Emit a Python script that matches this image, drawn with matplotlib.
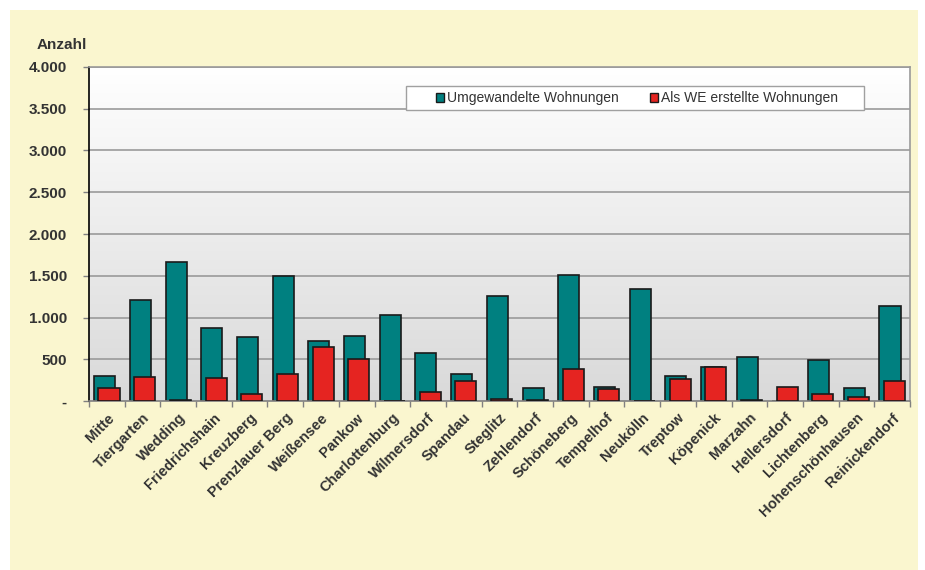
import matplotlib
matplotlib.use("Agg")
import matplotlib.pyplot as plt
import numpy as np
from matplotlib.patches import Rectangle
from matplotlib.ticker import FixedLocator

bezirke = ["Mitte", "Tiergarten", "Wedding", "Friedrichshain", "Kreuzberg",
           "Prenzlauer Berg", "Weißensee", "Pankow", "Charlottenburg",
           "Wilmersdorf", "Spandau", "Steglitz", "Zehlendorf", "Schöneberg",
           "Tempelhof", "Neukölln", "Treptow", "Köpenick", "Marzahn",
           "Hellersdorf", "Lichtenberg", "Hohenschönhausen", "Reinickendorf"]
umgewandelt = [303, 1210, 1665, 874, 770, 1497, 722, 778, 1026, 571, 327, 1261,
               156, 1513, 164, 1345, 299, 407, 531, 5, 491, 160, 1138]
als_we = [159, 287, 12, 275, 88, 323, 643, 503, 0, 112, 243, 28,
          10, 383, 140, 0, 263, 405, 12, 164, 80, 48, 240]
yticks = [0, 500, 1000, 1500, 2000, 2500, 3000, 3500, 4000]
ytick_labels = ["-", "500", "1.000", "1.500", "2.000", "2.500", "3.000", "3.500", "4.000"]

plt.rcParams['font.family'] = ['Liberation Sans', 'DejaVu Sans']
W, H = 925, 570
fig = plt.figure(figsize=(W / 100, H / 100), dpi=100)
fig.patch.set_facecolor("white")
fig.patches.append(Rectangle((10 / W, 0), 908 / W, 560 / H, transform=fig.transFigure,
                             facecolor="#faf6cf", edgecolor="none", zorder=-10))

ax = fig.add_axes([89 / W, (H - 401) / H, 821 / W, 334 / H])
ax.set_zorder(1)
n = len(bezirke)
x = np.arange(n)
ax.set_xlim(-0.5, n - 0.5)
ax.set_ylim(0, 4000)

# gradient background
grad = np.linspace(0, 1, 256).reshape(-1, 1)
cmap = matplotlib.colors.LinearSegmentedColormap.from_list("g", ["#d9d9d9", "#ffffff"])
ax.imshow(grad, extent=(-0.5, n - 0.5, 0, 4000), origin="lower", aspect="auto",
          cmap=cmap, zorder=0)

for y in yticks[1:]:
    ax.axhline(y, color="#9a9a9a", lw=1.2, zorder=1)

bw = 0.59
ax.bar(x - 0.06, umgewandelt, width=bw, color="#008080", edgecolor="#1a1a1a",
       linewidth=1.2, zorder=2, label="Umgewandelte Wohnungen")
ax.bar(x + 0.06, als_we, width=bw, color="#e52421", edgecolor="#1a1a1a",
       linewidth=1.2, zorder=3, label="Als WE erstellte Wohnungen")

ax.set_yticks(yticks)
ax.set_yticklabels(ytick_labels, fontsize=11, fontweight="bold", color="#333333")
ax.tick_params(axis="y", length=4, color="#808080", width=1, pad=12)

ax.set_xticks(x)
ax.set_xticklabels(bezirke, rotation=45, ha="right", rotation_mode="anchor",
                   fontsize=10.5, fontweight="bold", color="#333333")
ax.tick_params(axis="x", which="major", length=0, pad=7)
ax.xaxis.set_minor_locator(FixedLocator(np.arange(-0.5, n, 1.0)))
ax.tick_params(axis="x", which="minor", length=4, color="#808080", width=1)

ax.spines["left"].set_color("black")
ax.spines["left"].set_linewidth(1.2)
ax.spines["bottom"].set_color("#808080")
ax.spines["bottom"].set_linewidth(1.2)
ax.spines["right"].set_color("#9a9a9a")
ax.spines["right"].set_linewidth(1.2)
ax.spines["top"].set_color("#9a9a9a")
ax.spines["top"].set_linewidth(1.2)

# legend box (frame) and centred legend content
ax.add_patch(Rectangle(((406 - 89) / 821, (401 - 110) / 334), 458 / 821, 24 / 334,
                       transform=ax.transAxes, facecolor="white", edgecolor="#a0a0a0",
                       linewidth=1.0, zorder=4))
leg = ax.legend(loc="center", bbox_to_anchor=((637 - 89) / 821, (401 - 98) / 334),
                ncol=2, fontsize=10, frameon=False,
                handlelength=0.6, handleheight=0.6, handletextpad=0.25,
                borderaxespad=0, borderpad=0, columnspacing=2.2)
leg.set_zorder(5)
for t in leg.get_texts():
    t.set_color("#333333")
for h in leg.legend_handles:
    h.set_linewidth(1.0)

fig.text(37 / W, (H - 45) / H, "Anzahl", fontsize=11, fontweight="bold",
         color="#333333", va="center", ha="left")

fig.savefig("out.png", dpi=100)
